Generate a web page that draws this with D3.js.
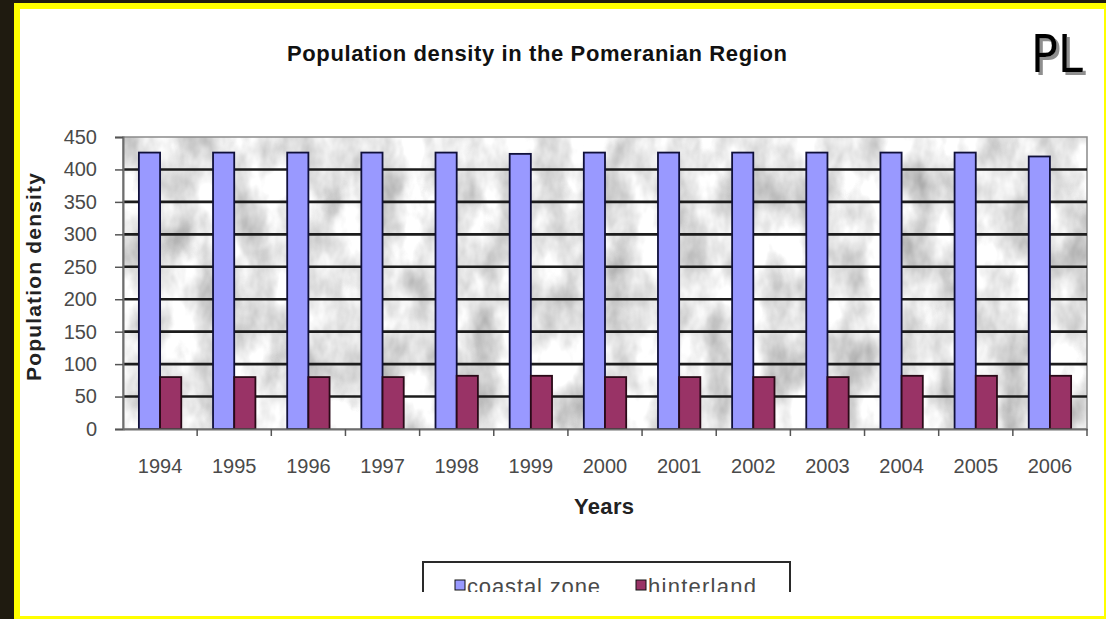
<!DOCTYPE html>
<html><head><meta charset="utf-8">
<script src="https://cdn.jsdelivr.net/npm/d3@7"></script>
<style>body{margin:0;background:#fff}svg{display:block}</style>
</head><body>
<svg id="c" width="1106" height="619"></svg>
<script>
const years = ['1994','1995','1996','1997','1998','1999','2000','2001','2002','2003','2004','2005','2006'];
const coastal = [426,426,426,426,426,424,426,426,426,426,426,426,420];
const hinterland = [80,80,80,80,82,82,80,80,80,80,82,82,82];
const yTicks = [0,50,100,150,200,250,300,350,400,450];
const seriesKeys = ['coastal','hinterland'];
const seriesLabels = ['coastal zone','hinterland'];
const seriesColors = ['#9999ff','#993366'];
const titleText = 'Population density in the Pomeranian Region';
const yTitle = 'Population density';
const xTitle = 'Years';
const cornerText = 'PL';

const W = 1106, H = 619;
const svg = d3.select('#c');
const FONT = '"Liberation Sans", Arial, sans-serif';

// frame
svg.append('rect').attr('width', W).attr('height', H).attr('fill', '#1f1b10');
svg.append('rect').attr('x', 14).attr('y', 3).attr('width', W - 14).attr('height', H - 3).attr('fill', '#ffff00');
svg.append('rect').attr('x', 20).attr('y', 9).attr('width', 1084).attr('height', 607).attr('fill', '#ffffff');

const m = {left: 123, top: 137, right: 1087, bottom: 429};

const x0 = d3.scaleBand().domain(years).range([m.left, m.right]).paddingInner(0).paddingOuter(0);
const gap = 1.5;
const barW = x0.bandwidth() / (2 + gap);
const x1 = d3.scaleBand().domain(seriesKeys).range([barW * gap / 2, barW * gap / 2 + 2 * barW]);
const y = d3.scaleLinear().domain([0, 450]).range([m.bottom, m.top]);
const color = d3.scaleOrdinal().domain(seriesKeys).range(seriesColors);

// marble texture
const defs = svg.append('defs');
const f = defs.append('filter').attr('id', 'marble')
  .attr('filterUnits', 'userSpaceOnUse')
  .attr('x', m.left).attr('y', m.top).attr('width', m.right - m.left).attr('height', m.bottom - m.top)
  .attr('color-interpolation-filters', 'sRGB');
f.append('feTurbulence').attr('type', 'fractalNoise').attr('baseFrequency', '0.03 0.018')
  .attr('numOctaves', 4).attr('seed', 5).attr('result', 'n');
f.append('feColorMatrix').attr('in', 'n').attr('type', 'matrix')
  .attr('values', '-0.55 0 0 0 1.18  -0.55 0 0 0 1.18  -0.55 0 0 0 1.18  0 0 0 0 1');

svg.append('rect').attr('x', m.left).attr('y', m.top)
  .attr('width', m.right - m.left).attr('height', m.bottom - m.top)
  .attr('fill', '#e4e4e4').attr('filter', 'url(#marble)');
svg.append('rect').attr('x', m.left).attr('y', m.top)
  .attr('width', m.right - m.left).attr('height', m.bottom - m.top)
  .attr('fill', 'none').attr('stroke', '#8a8a8a').attr('stroke-width', 1.5);

// gridlines
svg.append('g').selectAll('line').data(yTicks.filter(v => v > 0 && v < 450)).join('line')
  .attr('x1', m.left).attr('x2', m.right)
  .attr('y1', d => y(d)).attr('y2', d => y(d))
  .attr('stroke', '#1c1c1c').attr('stroke-width', 2.6);

// bars
const data = years.map((yr, i) => ({year: yr, coastal: coastal[i], hinterland: hinterland[i]}));
svg.append('g').selectAll('g').data(data).join('g')
  .attr('transform', d => `translate(${x0(d.year)},0)`)
  .selectAll('rect').data(d => seriesKeys.map(k => ({key: k, value: d[k]}))).join('rect')
  .attr('x', d => x1(d.key)).attr('width', x1.bandwidth())
  .attr('y', d => y(d.value)).attr('height', d => y(0) - y(d.value))
  .attr('fill', d => color(d.key))
  .attr('stroke', d => d.key === 'coastal' ? '#10103a' : '#2a0a18').attr('stroke-width', 1.8);

// y axis
const yAx = svg.append('g').attr('transform', `translate(${m.left},0)`)
  .call(d3.axisLeft(y).tickValues(yTicks).tickSize(8).tickPadding(18));
yAx.select('.domain').attr('stroke', '#6e6e6e').attr('stroke-width', 2);
yAx.selectAll('.tick line').attr('stroke', '#555').attr('stroke-width', 1.5);
yAx.selectAll('text').attr('font-family', FONT).attr('font-size', 20).attr('fill', '#4a4a4a');

// x axis
const xAx = svg.append('g').attr('transform', `translate(0,${m.bottom})`)
  .call(d3.axisBottom(x0).tickSize(0).tickPadding(30));
xAx.select('.domain').attr('stroke', '#6e6e6e').attr('stroke-width', 2);
xAx.selectAll('text').attr('font-family', FONT).attr('font-size', 20).attr('fill', '#4a4a4a');
svg.append('g').selectAll('line').data(years.slice(1).map(d => x0(d)).concat([m.right])).join('line')
  .attr('x1', d => d).attr('x2', d => d).attr('y1', m.bottom).attr('y2', m.bottom + 7)
  .attr('stroke', '#555').attr('stroke-width', 1.5);

// titles
svg.append('text').attr('x', 537).attr('y', 61).attr('text-anchor', 'middle')
  .attr('font-family', FONT).attr('font-weight', 'bold').attr('font-size', 22).attr('fill', '#111')
  .attr('textLength', 500).attr('lengthAdjust', 'spacing').text(titleText);
svg.append('text').attr('transform', 'translate(41,277) rotate(-90)').attr('text-anchor', 'middle')
  .attr('font-family', FONT).attr('font-weight', 'bold').attr('font-size', 21).attr('fill', '#222')
  .attr('textLength', 208).attr('lengthAdjust', 'spacing').text(yTitle);
svg.append('text').attr('x', 604).attr('y', 514).attr('text-anchor', 'middle')
  .attr('font-family', FONT).attr('font-weight', 'bold').attr('font-size', 22).attr('fill', '#222')
  .attr('textLength', 60).attr('lengthAdjust', 'spacing').text(xTitle);

// PL with drop shadow
const sh = defs.append('filter').attr('id', 'shadow').attr('x', '-20%').attr('y', '-20%').attr('width', '150%').attr('height', '150%');
sh.append('feDropShadow').attr('dx', 3).attr('dy', 3).attr('stdDeviation', 0.6)
  .attr('flood-color', '#8f8f8f').attr('flood-opacity', 1);
svg.append('text').attr('x', 1031).attr('y', 72)
  .attr('font-family', '"DejaVu Sans", sans-serif').attr('font-size', 52).attr('fill', '#000')
  .attr('textLength', 52).attr('lengthAdjust', 'spacingAndGlyphs')
  .attr('filter', 'url(#shadow)').text(cornerText);

// legend (cropped at bottom)
defs.append('clipPath').attr('id', 'legclip').append('rect')
  .attr('x', 400).attr('y', 540).attr('width', 420).attr('height', 52);
const leg = svg.append('g').attr('clip-path', 'url(#legclip)');
leg.append('path').attr('d', 'M423,600 V562 H790 V600').attr('fill', 'none')
  .attr('stroke', '#2a2a2a').attr('stroke-width', 2);
const legX = [455, 636], legTextX = [467, 648], legW = [133, 108];
seriesKeys.forEach((k, i) => {
  leg.append('rect').attr('x', legX[i]).attr('y', 580).attr('width', 10).attr('height', 10)
    .attr('fill', color(k)).attr('stroke', '#111').attr('stroke-width', 1);
  leg.append('text').attr('x', legTextX[i]).attr('y', 594)
    .attr('font-family', FONT).attr('font-size', 22).attr('fill', '#4a4a4a')
    .attr('textLength', legW[i]).attr('lengthAdjust', 'spacing').text(seriesLabels[i]);
});
</script>
</body></html>
